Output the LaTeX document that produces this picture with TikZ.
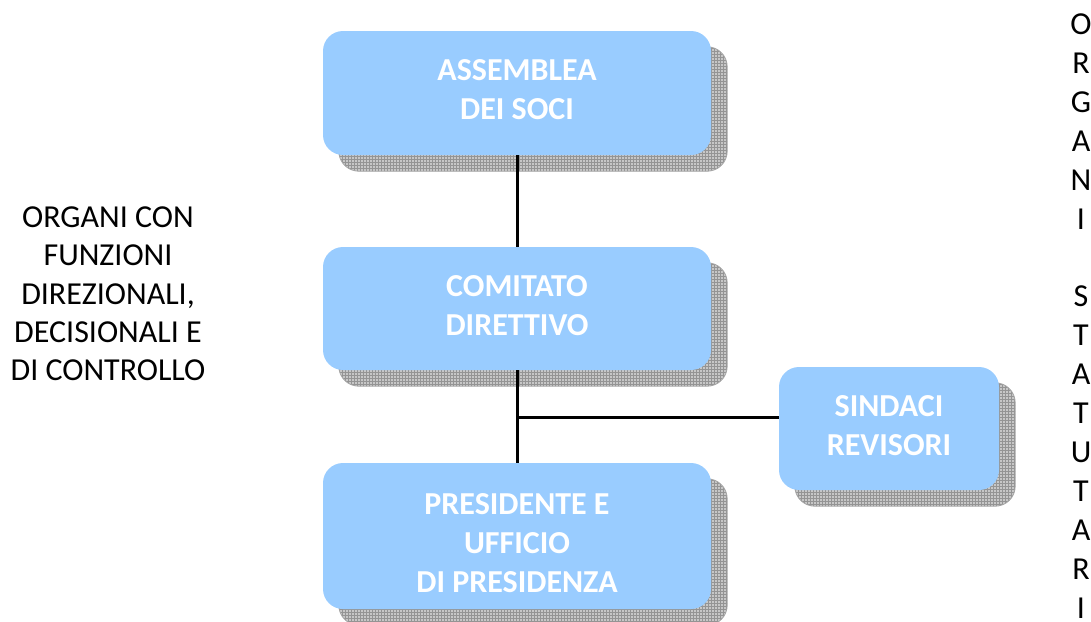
\documentclass[tikz,border=0pt]{standalone}
\usepackage{fontspec}
\setmainfont{Carlito}
\usetikzlibrary{patterns,backgrounds,calc}
\definecolor{boxblue}{HTML}{99CCFF}
\newcommand\boxtext[2]{\raisebox{#1}[\height][\depth]{\begin{tabular}{@{}c@{}}#2\end{tabular}}}
\begin{document}
\begin{tikzpicture}[x=1pt,y=-1pt,
  orgbox/.style={rectangle, rounded corners=20pt, fill=boxblue, draw=none,
    text=white, font=\fontsize{32}{38.8}\selectfont\bfseries, inner sep=0pt},
  shadowfill/.style={fill=black!22, rounded corners=20pt},
  shadowgrid/.style={pattern=grid, pattern color=black!42, rounded corners=20pt},
  shadowedge/.style={draw=black!35, line width=0.8pt, rounded corners=20pt},
  link/.style={draw=black, line width=3pt},
  sidetext/.style={font=\fontsize{32}{38.3}\selectfont, align=center, inner sep=0pt}
]
\useasboundingbox (0,0) rectangle (1091,621);

\node[orgbox, minimum width=388pt, minimum height=124pt] (a) at (517,93)
  {\boxtext{1pt}{ASSEMBLEA\\DEI SOCI}};
\node[orgbox, minimum width=388pt, minimum height=123pt] (b) at (517,308.5)
  {\boxtext{0pt}{COMITATO\\DIRETTIVO}};
\node[orgbox, minimum width=388pt, minimum height=146pt] (c) at (517,536)
  {\boxtext{-10pt}{PRESIDENTE E\\UFFICIO\\DI PRESIDENZA}};
\node[orgbox, minimum width=220pt, minimum height=123pt] (d) at (889,428.5)
  {\boxtext{0pt}{SINDACI\\REVISORI}};

\begin{scope}[on background layer]
\foreach \n in {a,b,c,d}{
  \path[shadowfill] ([shift={(16,16)}]\n.north west) rectangle ([shift={(16,16)}]\n.south east);
  \path[shadowgrid] ([shift={(16,16)}]\n.north west) rectangle ([shift={(16,16)}]\n.south east);
  \path[shadowedge] ([shift={(16,16)}]\n.north west) rectangle ([shift={(16,16)}]\n.south east);
}
\end{scope}

\coordinate (j) at (517,417);
\draw[link] (a.south) -- (b.north);
\draw[link] (b.south) -- (c.north);
\draw[link] (j) -- (j -| d.west);

\node[sidetext] (l) at (108,294) {ORGANI CON\\FUNZIONI\\DIREZIONALI,\\DECISIONALI E\\DI CONTROLLO};
\node[sidetext, font=\fontsize{32}{38.9}\selectfont] (r) at (1081,316)
  {O\\R\\G\\A\\N\\I\\\mbox{}\\S\\T\\A\\T\\U\\T\\A\\R\\I};
\end{tikzpicture}
\end{document}
